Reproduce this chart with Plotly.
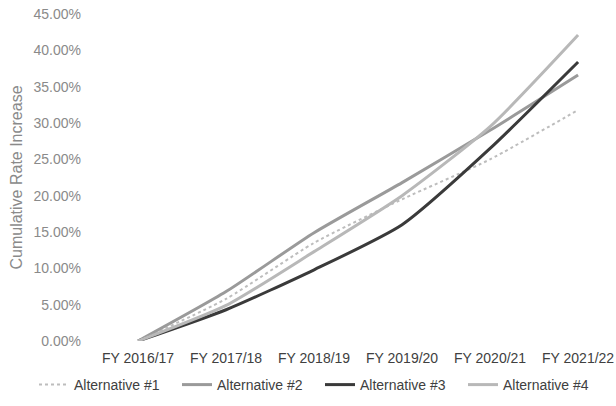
import plotly.graph_objects as go

categories = ["FY 2016/17", "FY 2017/18", "FY 2018/19", "FY 2019/20", "FY 2020/21", "FY 2021/22"]
alt1 = [0.0, 5.8, 13.5, 19.5, 25.0, 31.8]
alt2 = [0.0, 6.8, 14.9, 21.8, 29.0, 36.6]
alt3 = [0.0, 4.3, 9.8, 16.0, 26.5, 38.4]
alt4 = [0.0, 4.9, 12.3, 20.0, 29.5, 42.1]
series_names = ["Alternative #1", "Alternative #2", "Alternative #3", "Alternative #4"]
y_ticks = [0, 5, 10, 15, 20, 25, 30, 35, 40, 45]
y_tick_text = [f"{v:.2f}%" for v in y_ticks]

styles = [
    dict(color="#bdbdbd", width=2, dash="dot"),
    dict(color="#9a9a9a", width=3),
    dict(color="#3a3a3a", width=3),
    dict(color="#b8b8b8", width=3),
]

fig = go.Figure()
for name, vals, st in zip(series_names, [alt1, alt2, alt3, alt4], styles):
    fig.add_trace(go.Scatter(x=categories, y=vals, name=name, mode="lines",
                             line=dict(**st, shape="spline", smoothing=0.6)))

W, H = 616, 406
font_family = "Liberation Sans, Arial, sans-serif"
fig.update_layout(
    width=W, height=H,
    margin=dict(l=0, r=0, t=0, b=0, autoexpand=False),
    paper_bgcolor="white", plot_bgcolor="white",
    font=dict(family=font_family, size=14, color="#595959"),
    showlegend=True,
    legend=dict(orientation="h", x=0.5 + 12 / W, xanchor="center", xref="container",
                y=(H - 385) / H, yref="container", yanchor="middle",
                entrywidth=98, font=dict(size=14, color="#404040"),
                itemwidth=30),
    xaxis=dict(type="category", range=[-0.41, 5.09], domain=[102 / W, (W - 30) / W],
               showgrid=False, showline=False, automargin=False,
               zeroline=False, ticks="", tickfont=dict(size=14, color="#404040"),
               ticklabelstandoff=7),
    yaxis=dict(range=[0, 45], domain=[65 / H, 1 - 14 / H], automargin=False,
               tickvals=y_ticks, ticktext=y_tick_text,
               showgrid=False, showline=False, zeroline=False, ticks="",
               tickfont=dict(size=14, color="#8a8a8a"), ticklabelstandoff=20,
               title=dict(text="Cumulative Rate Increase", font=dict(size=16, color="#8a8a8a"),
                          standoff=6)),
)
fig.write_html("out.html", config={"displayModeBar": False},
               post_script="document.body.style.margin='0';")
